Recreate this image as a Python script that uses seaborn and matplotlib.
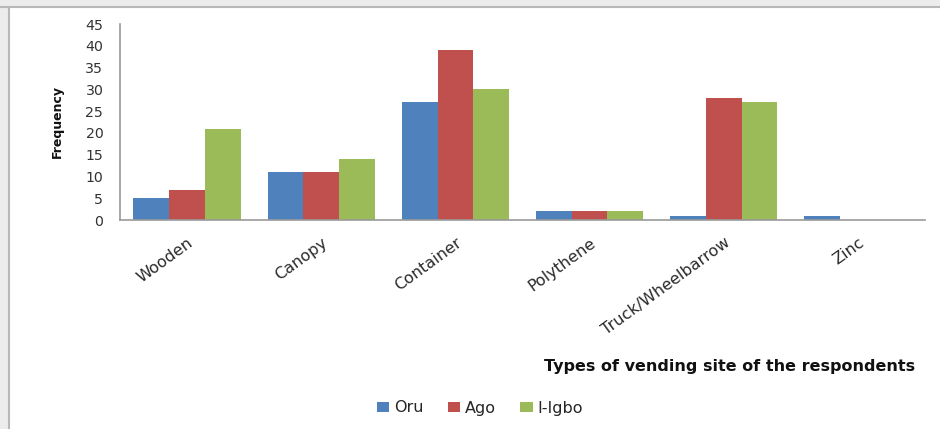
import matplotlib
matplotlib.use("Agg")
import matplotlib.pyplot as plt
import seaborn as sns
import pandas as pd
from matplotlib.patches import Patch

categories = ["Wooden", "Canopy", "Container", "Polythene", "Truck/Wheelbarrow", "Zinc"]
series_names = ["Oru", "Ago", "I-Igbo"]
oru = [5, 11, 27, 2, 1, 1]
ago = [7, 11, 39, 2, 28, 0]
iigbo = [21, 14, 30, 2, 27, 0]
yticks = [0, 5, 10, 15, 20, 25, 30, 35, 40, 45]

colors = ["#4F81BD", "#C0504D", "#9BBB59"]

rows = []
for name, vals in zip(series_names, [oru, ago, iigbo]):
    for c, v in zip(categories, vals):
        rows.append({"Type": c, "Site": name, "Frequency": v})
df = pd.DataFrame(rows)

sns.set_theme(style="white")
plt.rcParams["font.family"] = ["DejaVu Sans"]

fig = plt.figure(figsize=(9.4, 4.29), dpi=100)
fig.patch.set_facecolor("white")

# frame decoration (top band and left border)
fig.patches.append(plt.Rectangle((0, 1 - 6/429), 1, 6/429, transform=fig.transFigure,
                                 facecolor="#ececec", edgecolor="none", zorder=0))
fig.lines.append(plt.Line2D([0, 1], [1 - 7/429, 1 - 7/429], transform=fig.transFigure,
                            color="#b8b8b8", lw=1.5))
fig.patches.append(plt.Rectangle((0, 0), 8/940, 1 - 6/429, transform=fig.transFigure,
                                 facecolor="#ececec", edgecolor="none", zorder=0))
fig.lines.append(plt.Line2D([9/940, 9/940], [0, 1 - 7/429], transform=fig.transFigure,
                            color="#b8b8b8", lw=1.5))

ax = fig.add_axes([120/940, 209/429, 805/940, 196/429])
sns.barplot(data=df, x="Type", y="Frequency", hue="Site", order=categories,
            hue_order=series_names, palette=colors, width=0.8, gap=0,
            saturation=1, linewidth=0, ax=ax, legend=False)

ax.set_xlim(-0.5, len(categories) - 0.5)
ax.set_ylim(0, 45)
ax.set_yticks(yticks)
ax.set_yticklabels([str(t) for t in yticks], fontsize=10.2, color="#333333")
ax.tick_params(axis="y", length=0, pad=12)
ax.tick_params(axis="x", length=0, pad=11)
ax.set_xticks(range(len(categories)))
ax.set_xticklabels(categories, rotation=36, ha="right", va="top",
                   rotation_mode="anchor", fontsize=11.5, color="#2a2a2a")
ax.set_xlabel("")
ax.set_ylabel("Frequency", fontsize=9, fontweight="bold", color="#111111")
ax.yaxis.set_label_coords(-56/805, 0.5)

for s in ["top", "right"]:
    ax.spines[s].set_visible(False)
ax.spines["left"].set_color("#9a9a9a")
ax.spines["bottom"].set_color("#9a9a9a")
ax.spines["left"].set_linewidth(1.2)
ax.spines["bottom"].set_linewidth(1.2)

fig.text(915/940, 1 - 366/429, "Types of vending site of the respondents",
         ha="right", va="center", fontsize=11.5, fontweight="bold", color="#111111")

handles = [Patch(facecolor=c, edgecolor="none") for c in colors]
fig.legend(handles, series_names, loc="center", bbox_to_anchor=(480/940, 1 - 408/429),
           ncol=3, frameon=False, fontsize=11.5, handlelength=0.8, handleheight=0.65,
           handletextpad=0.3, columnspacing=1.5)

fig.savefig("out.png", dpi=100, facecolor="white")
